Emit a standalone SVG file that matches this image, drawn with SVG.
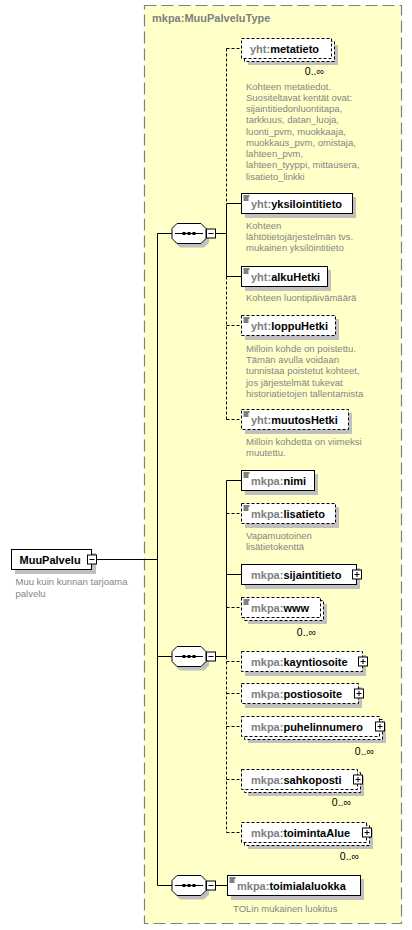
<svg xmlns="http://www.w3.org/2000/svg" xmlns:xlink="http://www.w3.org/1999/xlink" width="412" height="930" viewBox="0 0 412 930">
<style>
.bg{fill:#FFFFFF}
.ct{fill:#FFFFC8;stroke:#808080;stroke-width:1.2;stroke-dasharray:12 5}
.ctt{font:bold 11px "Liberation Sans",Arial,sans-serif;fill:#808080}
.sh{fill:#C0C0C0}
.bx{fill:#FFFFFF;stroke:#000000;stroke-width:1}
.dbx{fill:#FFFFFF;stroke:#000000;stroke-width:1;stroke-dasharray:3 2}
.nm{font:bold 11px "Liberation Sans",Arial,sans-serif;fill:#000000}
.ns{fill:#808080}
.ds{font:9.5px "Liberation Sans",Arial,sans-serif;fill:#858585}
.ml{font:10.5px "Liberation Sans",Arial,sans-serif;fill:#000000}
.ln{fill:none;stroke:#000000;stroke-width:1}
.dl{fill:none;stroke:#000000;stroke-width:1;stroke-dasharray:3 2}
.ic{fill:none;stroke:#000000;stroke-width:1}
</style>
<defs>
<g id="seq">
<polygon class="sh" points="180,-6 204,-6 209,-1 209,9 204,14 180,14 175,9 175,-1"/>
<polygon class="bx" points="177,-10 201,-10 206,-5 206,5 201,10 177,10 172,5 172,-5"/>
<path class="ln" d="M175,0H203"/>
<rect x="182.5" y="-1.5" width="3" height="3" fill="#000"/>
<rect x="187.5" y="-1.5" width="3" height="3" fill="#000"/>
<rect x="192.5" y="-1.5" width="3" height="3" fill="#000"/>
<rect class="bx" x="206.5" y="-4.5" width="9" height="9"/>
<path class="ln" d="M208.5,0H213.5"/>
</g>
<g id="plus">
<rect class="bx" x="-4.5" y="-4.5" width="9" height="9"/>
<path class="ln" d="M-2.5,0H2.5M0,-2.5V2.5"/>
</g>
<path id="icon" class="ic" d="M0,0.5H6M0,2.5H5M0,4.5H5"/>
</defs>
<rect class="bg" x="0" y="0" width="412" height="930"/>

<g id="type-MuuPalveluType">
<rect class="ct" x="144.5" y="5.5" width="257" height="918"/>
<text class="ctt" x="152" y="22">mkpa:MuuPalveluType</text>
</g>

<g id="connectors">
<path class="ln" d="M97,559.5H157.5M157.5,233.5V885.5H172M157.5,233.5H172M157.5,656.5H172"/>
<path class="ln" d="M215.5,233.5H226.5M215.5,656.5H226.5M215.5,885.5H227.5"/>
<path class="dl" d="M226.5,48.5V203.5M226.5,276.5V419.5"/>
<path class="ln" d="M226.5,203.5V276.5"/>
<path class="dl" d="M226.5,48.5H241.5M226.5,325.5H241.5M226.5,419.5H241.5"/>
<path class="ln" d="M226.5,203.5H241.5M226.5,276.5H241.5"/>
<path class="ln" d="M226.5,480.5V656.5"/>
<path class="dl" d="M226.5,656.5V832.5"/>
<path class="ln" d="M226.5,480.5H241.5M226.5,574.5H241.5"/>
<path class="dl" d="M226.5,513.5H241.5M226.5,607.5H241.5M226.5,661.5H241.5M226.5,693.5H241.5M226.5,726.5H241.5M226.5,779.5H241.5M226.5,832.5H241.5"/>
</g>

<g id="MuuPalvelu">
<rect class="sh" x="15" y="553" width="81" height="21"/>
<rect class="bx" x="11.5" y="549.5" width="80" height="20"/>
<rect class="bx" x="87.5" y="555" width="9" height="9"/>
<path class="ln" d="M89.5,559.5H94.5"/>
<text class="nm" x="19.5" y="563.5">MuuPalvelu</text>
<text class="ds" x="15.5" y="585">Muu kuin kunnan tarjoama</text>
<text class="ds" x="15.5" y="596.5">palvelu</text>
</g>

<g id="seq-1"><use xlink:href="#seq" y="233.5"/></g>
<g id="seq-2"><use xlink:href="#seq" y="656.5"/></g>
<g id="seq-3"><use xlink:href="#seq" y="885.5"/></g>

<g id="metatieto">
<rect class="sh" x="248" y="45" width="90" height="20"/>
<rect class="dbx" x="244.5" y="41.5" width="90" height="20"/>
<rect class="dbx" x="241.5" y="38.5" width="90" height="20"/>
<text class="nm" x="250" y="52.5"><tspan class="ns">yht:</tspan>metatieto</text>
<text class="ml" x="324" y="75" text-anchor="end">0..∞</text>
<text class="ds" x="246"><tspan x="246" y="89.5">Kohteen metatiedot.</tspan><tspan x="246" y="100.8">Suositeltavat kentät ovat:</tspan><tspan x="246" y="112">sijaintitiedonluontitapa,</tspan><tspan x="246" y="123.3">tarkkuus, datan_luoja,</tspan><tspan x="246" y="134.5">luonti_pvm, muokkaaja,</tspan><tspan x="246" y="145.8">muokkaus_pvm, omistaja,</tspan><tspan x="246" y="157">lahteen_pvm,</tspan><tspan x="246" y="168.3">lahteen_tyyppi, mittausera,</tspan><tspan x="246" y="179.5">lisatieto_linkki</tspan></text>
</g>

<g id="yksilointitieto">
<rect class="sh" x="245" y="197" width="111" height="21"/>
<rect class="bx" x="241.5" y="193.5" width="111" height="20"/>
<use xlink:href="#icon" x="243.5" y="195.5"/>
<text class="nm" x="251" y="207.5"><tspan class="ns">yht:</tspan>yksilointitieto</text>
<text class="ds"><tspan x="246" y="228.5">Kohteen</tspan><tspan x="246" y="239.8">lähtötietojärjestelmän  tvs.</tspan><tspan x="246" y="251">mukainen yksilöintitieto</tspan></text>
</g>

<g id="alkuHetki">
<rect class="sh" x="245" y="270" width="86" height="21"/>
<rect class="bx" x="241.5" y="266.5" width="86" height="20"/>
<use xlink:href="#icon" x="243.5" y="268.5"/>
<text class="nm" x="251" y="280.5"><tspan class="ns">yht:</tspan>alkuHetki</text>
<text class="ds" x="246" y="301">Kohteen luontipäivämäärä</text>
</g>

<g id="loppuHetki">
<rect class="sh" x="245" y="319" width="94" height="21"/>
<rect class="dbx" x="241.5" y="315.5" width="94" height="20"/>
<use xlink:href="#icon" x="243.5" y="317.5"/>
<text class="nm" x="251" y="329.5"><tspan class="ns">yht:</tspan>loppuHetki</text>
<text class="ds"><tspan x="246" y="352">Milloin kohde on poistettu.</tspan><tspan x="246" y="363.2">Tämän avulla voidaan</tspan><tspan x="246" y="374.4">tunnistaa poistetut kohteet,</tspan><tspan x="246" y="385.6">jos järjestelmät tukevat</tspan><tspan x="246" y="396.8">historiatietojen tallentamista</tspan></text>
</g>

<g id="muutosHetki">
<rect class="sh" x="245" y="413" width="107" height="21"/>
<rect class="dbx" x="241.5" y="409.5" width="107" height="20"/>
<use xlink:href="#icon" x="243.5" y="411.5"/>
<text class="nm" x="251" y="423.5"><tspan class="ns">yht:</tspan>muutosHetki</text>
<text class="ds"><tspan x="246" y="445">Milloin kohdetta on viimeksi</tspan><tspan x="246" y="456.3">muutettu.</tspan></text>
</g>

<g id="nimi">
<rect class="sh" x="245" y="474" width="73" height="21"/>
<rect class="bx" x="241.5" y="470.5" width="73" height="20"/>
<use xlink:href="#icon" x="243.5" y="472.5"/>
<text class="nm" x="251" y="484.5"><tspan class="ns">mkpa:</tspan>nimi</text>
</g>

<g id="lisatieto">
<rect class="sh" x="245" y="507" width="94" height="21"/>
<rect class="dbx" x="241.5" y="503.5" width="94" height="20"/>
<use xlink:href="#icon" x="243.5" y="505.5"/>
<text class="nm" x="251" y="517.5"><tspan class="ns">mkpa:</tspan>lisatieto</text>
<text class="ds"><tspan x="246" y="539">Vapamuotoinen</tspan><tspan x="246" y="550.3">lisätietokenttä</tspan></text>
</g>

<g id="sijaintitieto">
<rect class="sh" x="245" y="568" width="115" height="21"/>
<rect class="bx" x="241.5" y="564.5" width="115" height="20"/>
<text class="nm" x="251" y="578.5"><tspan class="ns">mkpa:</tspan>sijaintitieto</text>
<use xlink:href="#plus" x="357" y="574.5"/>
</g>

<g id="www">
<rect class="sh" x="248" y="604" width="79" height="20"/>
<rect class="dbx" x="244.5" y="600.5" width="79" height="20"/>
<rect class="dbx" x="241.5" y="597.5" width="79" height="20"/>
<use xlink:href="#icon" x="243.5" y="599.5"/>
<text class="nm" x="251" y="611.5"><tspan class="ns">mkpa:</tspan>www</text>
<text class="ml" x="316" y="636" text-anchor="end">0..∞</text>
</g>

<g id="kayntiosoite">
<rect class="sh" x="245" y="655" width="121" height="21"/>
<rect class="dbx" x="241.5" y="651.5" width="121" height="20"/>
<text class="nm" x="251" y="665.5"><tspan class="ns">mkpa:</tspan>kayntiosoite</text>
<use xlink:href="#plus" x="363" y="661.5"/>
</g>

<g id="postiosoite">
<rect class="sh" x="245" y="687" width="117" height="21"/>
<rect class="dbx" x="241.5" y="683.5" width="117" height="20"/>
<text class="nm" x="251" y="697.5"><tspan class="ns">mkpa:</tspan>postiosoite</text>
<use xlink:href="#plus" x="359" y="693.5"/>
</g>

<g id="puhelinnumero">
<rect class="sh" x="248" y="723" width="138" height="20"/>
<rect class="dbx" x="244.5" y="719.5" width="138" height="20"/>
<rect class="dbx" x="241.5" y="716.5" width="138" height="20"/>
<text class="nm" x="251" y="730.5"><tspan class="ns">mkpa:</tspan>puhelinnumero</text>
<use xlink:href="#plus" x="380" y="726.5"/>
<text class="ml" x="374" y="755" text-anchor="end">0..∞</text>
</g>

<g id="sahkoposti">
<rect class="sh" x="248" y="776" width="116" height="20"/>
<rect class="dbx" x="244.5" y="772.5" width="116" height="20"/>
<rect class="dbx" x="241.5" y="769.5" width="116" height="20"/>
<text class="nm" x="251" y="783.5"><tspan class="ns">mkpa:</tspan>sahkoposti</text>
<use xlink:href="#plus" x="358" y="779.5"/>
<text class="ml" x="351" y="806" text-anchor="end">0..∞</text>
</g>

<g id="toimintaAlue">
<rect class="sh" x="248" y="829" width="125" height="20"/>
<rect class="dbx" x="244.5" y="825.5" width="125" height="20"/>
<rect class="dbx" x="241.5" y="822.5" width="125" height="20"/>
<text class="nm" x="251" y="836.5"><tspan class="ns">mkpa:</tspan>toimintaAlue</text>
<use xlink:href="#plus" x="367" y="832.5"/>
<text class="ml" x="359" y="860" text-anchor="end">0..∞</text>
</g>

<g id="toimialaluokka">
<rect class="sh" x="231" y="879" width="133" height="21"/>
<rect class="bx" x="227.5" y="875.5" width="133" height="20"/>
<use xlink:href="#icon" x="229.5" y="877.5"/>
<text class="nm" x="237" y="889.5"><tspan class="ns">mkpa:</tspan>toimialaluokka</text>
<text class="ds" x="233" y="912">TOLin mukainen luokitus</text>
</g>
</svg>
